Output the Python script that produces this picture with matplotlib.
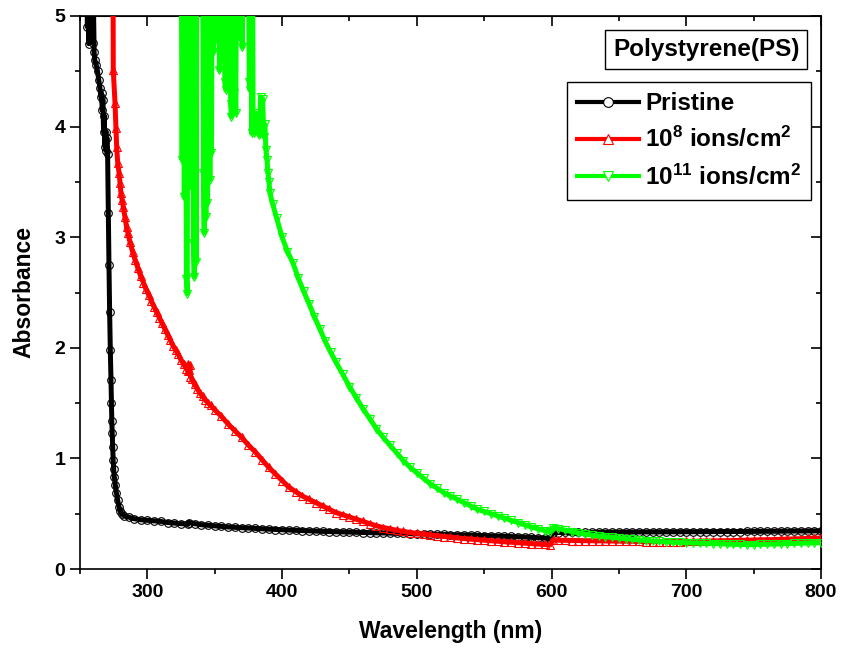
import matplotlib
matplotlib.use("Agg")
import matplotlib.pyplot as plt
from matplotlib.ticker import MultipleLocator, NullFormatter

plt.rcParams['font.family'] = ['Liberation Sans', 'DejaVu Sans']
plt.rcParams['font.weight'] = 'bold'
plt.rcParams['mathtext.fontset'] = 'custom'
plt.rcParams['mathtext.rm'] = 'Liberation Sans:bold'
plt.rcParams['mathtext.it'] = 'Liberation Sans:bold'
plt.rcParams['mathtext.bf'] = 'Liberation Sans:bold'

# ---- data: UV-Vis absorbance of polystyrene films ----
pristine_wl = [252, 254, 255, 255.5, 256, 256.5, 257, 257.5, 258, 258.5, 259, 259.5,
               260, 260.5, 261, 262, 263, 264, 264.8, 265.5, 266, 266.5, 267, 267.5,
               268, 268.5, 269, 269.5, 270, 270.5, 271, 271.5, 272, 272.5, 273, 273.3,
               273.6, 273.9, 274.3, 274.6, 275, 275.5, 276.2, 277, 278, 279, 280, 281,
               283, 286, 290, 295, 300, 305, 310, 315, 320, 325, 330, 331, 335, 340,
               345, 350, 355, 360, 365, 370, 375, 380, 385, 390, 395,
               400, 405, 410, 415, 420, 425, 430, 435, 440, 445, 450, 455, 460, 465,
               470, 475, 480, 485, 490, 495, 500, 505, 510, 515, 520, 525, 530, 535,
               540, 545, 550, 555, 560, 565, 570, 575, 580, 585, 590, 595, 599,
               601, 605, 610, 615, 620, 625, 630, 635, 640, 645, 650, 655, 660, 665,
               670, 675, 680, 685, 690, 695, 700, 705, 710, 715, 720, 725, 730, 735,
               740, 745, 750, 755, 760, 765, 770, 775, 780, 785, 790, 795, 800]
pristine_abs = [6.0, 6.0, 5.3, 4.9, 5.4, 4.75, 5.3, 4.82, 5.2, 4.93, 5.3, 4.76,
                5.1, 4.67, 4.60, 4.56, 4.50, 4.42, 4.35, 4.27, 4.30, 4.15, 4.24, 3.95,
                4.10, 3.82, 3.95, 3.78, 3.90, 3.75, 3.22, 2.75, 2.32, 1.98, 1.71, 1.50,
                1.34, 1.23, 1.10, 0.99, 0.90, 0.83, 0.76, 0.69, 0.62, 0.56, 0.52, 0.50,
                0.48, 0.47, 0.455, 0.445, 0.44, 0.435, 0.43, 0.42, 0.415, 0.41, 0.405, 0.42, 0.41, 0.40,
                0.395, 0.39, 0.385, 0.38, 0.377, 0.373, 0.37, 0.367, 0.363, 0.36, 0.357,
                0.355, 0.352, 0.350, 0.347, 0.345, 0.342, 0.340, 0.338, 0.337, 0.335, 0.334, 0.332, 0.330, 0.329,
                0.327, 0.326, 0.324, 0.322, 0.321, 0.319, 0.318, 0.316, 0.315, 0.313, 0.312, 0.310, 0.309, 0.307,
                0.306, 0.304, 0.302, 0.300, 0.298, 0.296, 0.294, 0.292, 0.289, 0.286, 0.283, 0.279, 0.272,
                0.330, 0.330, 0.331, 0.331, 0.331, 0.332, 0.332, 0.332, 0.333, 0.333, 0.333, 0.334, 0.334, 0.334,
                0.335, 0.335, 0.335, 0.336, 0.336, 0.336, 0.337, 0.337, 0.337, 0.338, 0.338, 0.338, 0.339, 0.339,
                0.339, 0.340, 0.340, 0.340, 0.341, 0.341, 0.342, 0.342, 0.343, 0.343, 0.344, 0.344, 0.345]

ion8_wl = [272, 274.5, 274.7, 276, 276.7, 277.2, 278, 279, 279.7, 280.4, 281.2, 282.1,
           283.4, 284.6, 285.5, 287, 289, 291, 293, 295, 297, 299, 301, 303, 305, 307,
           309, 311, 313, 315, 317, 319, 321, 323, 325, 327, 329, 330, 330.5, 331, 331.5,
           332, 333, 335, 337, 339, 341, 343, 345, 347, 350, 355, 360, 365, 370, 375,
           380, 385, 390, 395, 400, 405, 410, 415, 420, 425, 430, 435, 440, 445, 450,
           455, 460, 465, 470, 475, 480, 485, 490, 495, 500, 505, 510, 515, 520, 525,
           530, 535, 540, 545, 550, 555, 560, 565, 570, 575, 580, 585, 590, 595, 599,
           601, 605, 610, 615, 620, 625, 630, 635, 640, 645, 650, 655, 660, 665,
           670, 675, 680, 685, 690, 695, 700, 705, 710, 715, 720, 725, 730, 735,
           740, 745, 750, 755, 760, 765, 770, 775, 780, 785, 790, 795, 800]
ion8_abs = [6.0, 5.5, 4.51, 4.21, 3.99, 3.82, 3.67, 3.58, 3.49, 3.40, 3.34, 3.27,
            3.18, 3.09, 3.04, 2.96, 2.87, 2.79, 2.72, 2.65, 2.59, 2.53, 2.48, 2.42, 2.37, 2.32,
            2.27, 2.22, 2.17, 2.12, 2.07, 2.02, 1.98, 1.94, 1.89, 1.85, 1.81, 1.79, 1.85, 1.80, 1.84,
            1.74, 1.72, 1.67, 1.63, 1.59, 1.56, 1.53, 1.50, 1.48, 1.44, 1.38, 1.31, 1.25, 1.19, 1.12,
            1.06, 0.99, 0.92, 0.86, 0.80, 0.74, 0.70, 0.66, 0.63, 0.60, 0.57, 0.54, 0.51, 0.49, 0.47,
            0.45, 0.43, 0.41, 0.39, 0.375, 0.362, 0.350, 0.340, 0.330, 0.322, 0.315, 0.308, 0.300, 0.293, 0.287,
            0.281, 0.275, 0.270, 0.265, 0.260, 0.255, 0.250, 0.246, 0.242, 0.238, 0.234, 0.230, 0.226, 0.222, 0.218,
            0.262, 0.260, 0.259, 0.257, 0.256, 0.255, 0.254, 0.253, 0.252, 0.251, 0.250, 0.250, 0.249, 0.249,
            0.248, 0.248, 0.248, 0.248, 0.248, 0.248, 0.249, 0.250, 0.251, 0.252, 0.253, 0.254, 0.256, 0.257,
            0.259, 0.260, 0.262, 0.263, 0.265, 0.266, 0.268, 0.270, 0.272, 0.274, 0.276, 0.278, 0.280]

ion11_wl = [322, 325.0, 325.8, 326.6, 327.4, 328.2, 329.0, 329.6, 330.2, 332.2, 332.8,
            333.4, 334.2, 334.8, 335.4, 336.2, 336.8, 341.0, 341.6, 342.2, 342.8, 343.4,
            344.0, 344.6, 345.2, 345.8, 346.4, 347.0, 347.6, 348.2, 348.8, 349.4, 350.0,
            351.5, 352.5, 353.5, 354.5, 355.5, 356.5, 357.5, 358.2, 359.0, 361.0, 361.8,
            362.4, 363.0, 364.0, 364.6, 365.6, 366.5, 368.5, 369.5, 370.5, 371.5, 373.0,
            374.8, 375.6, 376.2, 376.8, 377.4, 378.0, 378.5, 379.5, 380.5, 381.3, 382.0,
            383.0, 384.0, 384.8, 385.6, 386.4, 387.2, 388.0, 388.8, 389.5, 390.3, 391.0,
            393, 396, 400, 404, 408, 412, 416, 420, 424, 428, 432, 436, 440, 445, 450,
            455, 460, 465, 470, 475, 480, 485, 490, 495, 500, 505, 510, 515, 520, 525,
            530, 535, 540, 545, 550, 555, 560, 565, 570, 575, 580, 585, 590, 595, 599,
            601, 605, 610, 615, 620, 625, 630, 635, 640, 645, 650, 655, 660, 665,
            670, 675, 680, 685, 690, 695, 700, 705, 710, 715, 720, 725, 730, 735,
            740, 745, 750, 755, 760, 765, 770, 775, 780, 785, 790, 795, 800]
ion11_abs = [6.0, 6.0, 3.70, 6.0, 3.36, 6.0, 2.62, 2.49, 6.0, 6.0, 3.45,
             6.0, 2.95, 2.64, 6.0, 2.78, 6.0, 6.0, 3.58, 3.04, 6.0, 3.18,
             6.0, 3.31, 3.93, 6.0, 3.52, 6.0, 3.76, 6.0, 4.67, 6.0, 6.0,
             4.78, 6.0, 4.51, 6.0, 4.62, 6.0, 4.40, 4.33, 6.0, 6.0, 4.20,
             4.09, 6.0, 4.30, 6.0, 4.12, 6.0, 4.80, 6.0, 4.72, 6.0, 6.0,
             6.0, 4.40, 4.33, 6.0, 3.94, 6.0, 4.05, 3.94, 4.12, 3.96, 4.10,
             3.92, 4.27, 3.95, 4.25, 3.91, 4.02, 3.79, 3.70, 3.58, 3.50, 3.40,
             3.30, 3.17, 3.00, 2.87, 2.77, 2.63, 2.51, 2.40, 2.28, 2.17, 2.06, 1.96, 1.87, 1.76, 1.65,
             1.55, 1.45, 1.36, 1.27, 1.19, 1.12, 1.05, 0.98, 0.92, 0.87, 0.82, 0.77, 0.73, 0.69, 0.66,
             0.63, 0.60, 0.57, 0.54, 0.52, 0.50, 0.48, 0.46, 0.44, 0.42, 0.40, 0.38, 0.365, 0.345, 0.337,
             0.375, 0.365, 0.352, 0.338, 0.326, 0.316, 0.307, 0.299, 0.292, 0.286, 0.279, 0.273, 0.267, 0.262,
             0.257, 0.253, 0.249, 0.245, 0.242, 0.240, 0.237, 0.235, 0.233, 0.232, 0.230, 0.228, 0.226, 0.224,
             0.222, 0.220, 0.221, 0.223, 0.224, 0.226, 0.228, 0.229, 0.231, 0.233, 0.235, 0.237, 0.238]

labels = ['Pristine', '10$^{8}$ ions/cm$^{2}$', '10$^{11}$ ions/cm$^{2}$']
colors = ['black', '#ff0000', '#00ff00']
markers = ['o', '^', 'v']

fig = plt.figure(figsize=(8.44, 6.56), dpi=100)
ax = fig.add_axes([80 / 844, 1 - 569 / 656, 741 / 844, 553 / 656])

series = [(pristine_wl, pristine_abs), (ion8_wl, ion8_abs), (ion11_wl, ion11_abs)]
for (wl, ab), lab, col, mk, z in zip(series, labels, colors, markers, [2, 3, 4]):
    # thick line underneath, open markers on top of it
    ax.plot(wl, ab, color=col, lw=3.6, zorder=z)
    ax.plot(wl, ab, ls='none', marker=mk, ms=6 if mk != 'o' else 5.5,
            mfc='none', mec=col, mew=0.8, zorder=z)
    # legend entry: line with a single white-filled marker
    ax.plot([], [], color=col, lw=3.0, marker=mk, ms=7.5 if mk != 'o' else 7,
            mfc='white', mec=col, mew=0.8, label=lab)

ax.set_xlim(250, 800)
ax.set_ylim(0, 5)
ax.xaxis.set_major_locator(MultipleLocator(100))
ax.xaxis.set_minor_locator(MultipleLocator(50))
ax.yaxis.set_major_locator(MultipleLocator(1))
ax.yaxis.set_minor_locator(MultipleLocator(0.5))
ax.tick_params(which='both', direction='out', width=1.2, labelsize=14)
ax.tick_params(which='major', length=7)
ax.tick_params(which='minor', length=3.5)
for s in ax.spines.values():
    s.set_linewidth(1.2)

# mirrored ticks on top and right point inward
top = ax.secondary_xaxis('top')
top.xaxis.set_major_locator(MultipleLocator(100))
top.xaxis.set_minor_locator(MultipleLocator(50))
top.xaxis.set_major_formatter(NullFormatter())
top.tick_params(which='both', direction='in', width=1.2)
top.tick_params(which='major', length=7)
top.tick_params(which='minor', length=3.5)
right = ax.secondary_yaxis('right')
right.yaxis.set_major_locator(MultipleLocator(1))
right.yaxis.set_minor_locator(MultipleLocator(0.5))
right.yaxis.set_major_formatter(NullFormatter())
right.tick_params(which='both', direction='in', width=1.2)
right.tick_params(which='major', length=7)
right.tick_params(which='minor', length=3.5)

ax.set_xlabel('Wavelength (nm)', fontsize=16.5, fontweight='bold', labelpad=14)
ax.set_ylabel('Absorbance', fontsize=16.5, fontweight='bold', labelpad=14)

leg = ax.legend(loc='upper right', bbox_to_anchor=(0.987, 0.881), prop={'size': 17.5, 'weight': 'bold'},
                fancybox=False, edgecolor='black', framealpha=1, borderaxespad=0,
                handlelength=2.55, handletextpad=0.25, labelspacing=0.5, borderpad=0.42,
                numpoints=1)
leg.get_frame().set_linewidth(1.0)

ax.text(0.845, 0.94, 'Polystyrene(PS)', transform=ax.transAxes, ha='center', va='center',
        fontsize=17.5, fontweight='bold',
        bbox=dict(boxstyle='square,pad=0.33', fc='white', ec='black', lw=1.0))

fig.savefig('out.png', dpi=100)
